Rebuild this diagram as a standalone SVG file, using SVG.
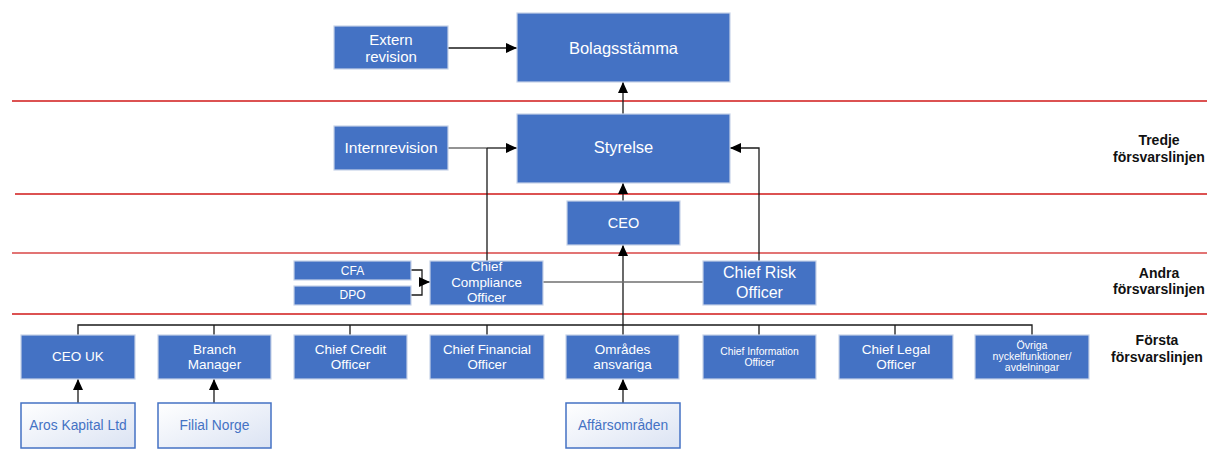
<svg xmlns="http://www.w3.org/2000/svg" width="1207" height="451" viewBox="0 0 1207 451">
<style>
.box{fill:#4472c4;stroke:#c6d2e8;stroke-width:1.2}
.wbox{fill:url(#g);stroke:#4472c4;stroke-width:1.5}
.t{font-family:"Liberation Sans",Arial,sans-serif;fill:#ffffff;text-anchor:middle}
.bt{font-family:"Liberation Sans",Arial,sans-serif;fill:#4472c4;text-anchor:middle;font-size:13.8px}
.lbl{font-family:"Liberation Sans",Arial,sans-serif;fill:#111;text-anchor:middle;font-weight:bold;font-size:14px}
.red{stroke:#d01818;stroke-width:1.5}
.c{fill:none;stroke:#1a1a1a;stroke-width:1.3}
.cg{fill:none;stroke:#6f6f6f;stroke-width:1.6}
</style>
<defs>
<linearGradient id="g" x1="0" y1="0" x2="1" y2="1">
<stop offset="0" stop-color="#ffffff"/>
<stop offset="1" stop-color="#dbe3f3"/>
</linearGradient>
<marker id="a" markerUnits="userSpaceOnUse" markerWidth="12" markerHeight="10" refX="11" refY="5" orient="auto">
<path d="M0,0 L11,5 L0,10 Z" fill="#000"/>
</marker>
</defs>
<g id="lines">
<line class="red" x1="12" y1="101" x2="1207" y2="101"/>
<line class="red" x1="15" y1="194" x2="1207" y2="194"/>
<line class="red" x1="12" y1="253" x2="1207" y2="253" stroke-opacity="0.8"/>
<line class="red" x1="12" y1="314" x2="1207" y2="314"/>
</g>
<g id="connectors">
<path class="c" d="M448,48 H517" marker-end="url(#a)"/>
<path class="c" d="M623,114 V82" marker-end="url(#a)"/>
<path class="cg" d="M448,148 H487"/>
<path class="c" d="M487,148 H517" marker-end="url(#a)"/>
<path class="c" d="M487,261 V148"/>
<path class="c" d="M759,261 V148 H730" marker-end="url(#a)"/>
<path class="c" d="M623,201 V183" marker-end="url(#a)"/>
<path class="c" d="M623,335 V245" marker-end="url(#a)"/>
<path class="c" d="M411,270 H422 V295 H411"/>
<path class="c" d="M422,282 H430" marker-end="url(#a)"/>
<path class="cg" d="M543,282 H703"/>
<path class="c" d="M78,335 V325 H1032 V335 M214,325 V335 M350,325 V335 M487,325 V335 M759,325 V335 M895,325 V335"/>
<path class="c" d="M78,403 V379" marker-end="url(#a)"/>
<path class="c" d="M214,403 V379" marker-end="url(#a)"/>
<path class="c" d="M623,403 V379" marker-end="url(#a)"/>
</g>
<g id="extern-revision"><rect class="box" x="334" y="26" width="114" height="43"/><text class="t" font-size="15" x="391" y="44.5">Extern</text><text class="t" font-size="15" x="391" y="62">revision</text></g>
<g id="bolagsstamma"><rect class="box" x="517" y="13" width="213" height="69"/><text class="t" font-size="16.5" x="623.5" y="53.5">Bolagsstämma</text></g>
<g id="internrevision"><rect class="box" x="334" y="126" width="114" height="44"/><text class="t" font-size="15.5" x="391" y="153">Internrevision</text></g>
<g id="styrelse"><rect class="box" x="517" y="114" width="213" height="69"/><text class="t" font-size="16.5" x="623.5" y="153">Styrelse</text></g>
<g id="ceo"><rect class="box" x="567" y="201" width="113" height="44"/><text class="t" font-size="14.5" x="623.5" y="228">CEO</text></g>
<g id="cfa"><rect class="box" x="294" y="261" width="117" height="19"/><text class="t" font-size="12" x="352.5" y="274.5">CFA</text></g>
<g id="dpo"><rect class="box" x="294" y="286" width="117" height="19"/><text class="t" font-size="12" x="352.5" y="298.5">DPO</text></g>
<g id="cco"><rect class="box" x="430" y="261" width="113" height="44"/><text class="t" font-size="13.4" x="486.5" y="271">Chief</text><text class="t" font-size="13.4" x="486.5" y="286.5">Compliance</text><text class="t" font-size="13.4" x="486.5" y="302">Officer</text></g>
<g id="cro"><rect class="box" x="703" y="261" width="113" height="44"/><text class="t" font-size="16" x="759.5" y="278">Chief Risk</text><text class="t" font-size="16" x="759.5" y="297.5">Officer</text></g>
<g id="ceo-uk"><rect class="box" x="21" y="335" width="114" height="44"/><text class="t" font-size="13.5" x="78" y="361">CEO UK</text></g>
<g id="branch-manager"><rect class="box" x="158" y="335" width="113" height="44"/><text class="t" font-size="13.5" x="214.5" y="353.5">Branch</text><text class="t" font-size="13.5" x="214.5" y="369">Manager</text></g>
<g id="cco-credit"><rect class="box" x="294" y="335" width="113" height="44"/><text class="t" font-size="13.5" x="350.5" y="353.5">Chief Credit</text><text class="t" font-size="13.5" x="350.5" y="369">Officer</text></g>
<g id="cfo"><rect class="box" x="430" y="335" width="114" height="44"/><text class="t" font-size="13.3" x="487" y="353.5">Chief Financial</text><text class="t" font-size="13.3" x="487" y="369">Officer</text></g>
<g id="omrades"><rect class="box" x="566" y="335" width="113" height="44"/><text class="t" font-size="13.5" x="622.5" y="353.5">Områdes</text><text class="t" font-size="13.5" x="622.5" y="369">ansvariga</text></g>
<g id="cio"><rect class="box" x="703" y="335" width="113" height="44"/><text class="t" font-size="10.3" x="759.5" y="354.5">Chief Information</text><text class="t" font-size="10.3" x="759.5" y="366">Officer</text></g>
<g id="clo"><rect class="box" x="839" y="335" width="114" height="44"/><text class="t" font-size="13.5" x="896" y="353.5">Chief Legal</text><text class="t" font-size="13.5" x="896" y="369">Officer</text></g>
<g id="ovriga"><rect class="box" x="975" y="335" width="114" height="44"/><text class="t" font-size="10.5" x="1032" y="348.5">Övriga</text><text class="t" font-size="10.5" x="1032" y="359.5">nyckelfunktioner/</text><text class="t" font-size="10.5" x="1032" y="370.5">avdelningar</text></g>
<g id="aros"><rect class="wbox" x="21" y="403" width="114" height="45"/><text class="bt" x="78" y="430">Aros Kapital Ltd</text></g>
<g id="filial"><rect class="wbox" x="158" y="403" width="113" height="45"/><text class="bt" x="214.5" y="430">Filial Norge</text></g>
<g id="affarsomraden"><rect class="wbox" x="566" y="403" width="114" height="45"/><text class="bt" x="623" y="430">Affärsområden</text></g>
<g id="labels">
<text class="lbl" x="1159" y="145">Tredje</text><text class="lbl" x="1159" y="161.5">försvarslinjen</text>
<text class="lbl" x="1159" y="277.5">Andra</text><text class="lbl" x="1159" y="294">försvarslinjen</text>
<text class="lbl" x="1157" y="345">Första</text><text class="lbl" x="1157" y="362">försvarslinjen</text>
</g>
</svg>
